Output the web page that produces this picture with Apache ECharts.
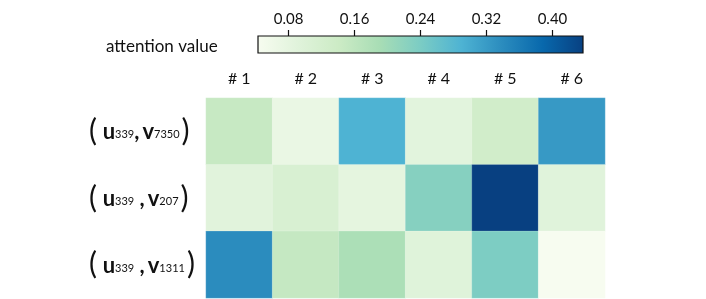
<!DOCTYPE html>
<html>
<head>
<meta charset="utf-8">
<script src="https://cdn.jsdelivr.net/npm/echarts@6/dist/echarts.min.js"></script>
<style>html,body{margin:0;padding:0;background:#fff}#c{width:706px;height:299px}</style>
</head>
<body>
<div id="c"></div>
<script>
// ---- data ----
const columns = ['# 1', '# 2', '# 3', '# 4', '# 5', '# 6'];
const rowSubs = [['339', '7350'], ['339', '207'], ['339', '1311']];
const row1 = [0.149, 0.071, 0.289, 0.088, 0.130, 0.322];
const row2 = [0.090, 0.112, 0.082, 0.228, 0.437, 0.092];
const row3 = [0.339, 0.151, 0.185, 0.094, 0.238, 0.043];
const colorbarTicks = [0.08, 0.16, 0.24, 0.32, 0.40];
const valueMin = 0.043;
const valueMax = 0.437;
const legendTitle = 'attention value';

const GnBu = ['#f7fcf0', '#e0f3db', '#ccebc5', '#a8ddb5', '#7bccc4', '#4eb3d3', '#2b8cbe', '#0868ac', '#084081'];

const rows = [row1, row2, row3];
const rowLabels = rowSubs.map((_, i) => 'r' + i);
const commaSpace = ['', ' ', ' '];
const heat = [];
rows.forEach((r, ri) => r.forEach((v, ci) => heat.push([ci, ri, v])));

const FONT = 'Lato';
const chart = echarts.init(document.getElementById('c'));
chart.setOption({
  backgroundColor: '#fff',
  animation: false,
  textStyle: { fontFamily: FONT, color: '#111' },
  title: {
    text: legendTitle, left: 101, top: 33,
    textStyle: { fontFamily: FONT, fontSize: 17, fontWeight: 'normal', color: '#111' }
  },
  grid: [
    { left: 206, top: 98, width: 399, height: 200 },
    {
      left: 258, top: 36, width: 325, height: 17, show: true,
      borderColor: '#111', borderWidth: 1.2,
      backgroundColor: {
        type: 'linear', x: 0, y: 0, x2: 1, y2: 0,
        colorStops: GnBu.map((c, i) => ({ offset: i / (GnBu.length - 1), color: c }))
      }
    }
  ],
  xAxis: [
    {
      type: 'category', data: columns, gridIndex: 0, position: 'top',
      axisLine: { show: false }, axisTick: { show: false },
      axisLabel: { fontSize: 16, color: '#111', margin: 11, fontFamily: FONT }
    },
    {
      type: 'value', gridIndex: 1, position: 'top', min: valueMin, max: valueMax,
      splitLine: { show: false },
      axisLine: { show: false },
      axisTick: { show: true, customValues: colorbarTicks, length: 6, inside: false, lineStyle: { color: '#111', width: 1.2 } },
      axisLabel: { customValues: colorbarTicks, fontSize: 15, color: '#111', margin: 9, fontFamily: FONT,
        formatter: v => v.toFixed(2) }
    }
  ],
  yAxis: [
    {
      type: 'category', data: rowLabels, gridIndex: 0, inverse: true,
      axisLine: { show: false }, axisTick: { show: false },
      axisLabel: {
        margin: 117, align: 'left',
        formatter: (v, idx) => {
          const s = rowSubs[idx];
          return '{p|(}{sp| }{b|u}{s|' + s[0] + '}{b|' + commaSpace[idx] + ',} {b|v}{s|' + s[1] + '}{q|)}';
        },
        rich: {
          p: { fontSize: 30, fontFamily: FONT, color: '#111', verticalAlign: 'bottom' },
          q: { fontSize: 30, fontFamily: FONT, color: '#111', verticalAlign: 'bottom', padding: [0, 0, 0, 2] },
          sp: { fontSize: 22, fontFamily: FONT, verticalAlign: 'bottom' },
          b: { fontSize: 22, fontWeight: 'bold', fontFamily: FONT, color: '#111', verticalAlign: 'bottom', padding: [0, 0, 3, 0] },
          s: { fontSize: 11, fontFamily: FONT, color: '#111', verticalAlign: 'bottom', padding: [0, 0, 6, 0] }
        }
      }
    },
    { type: 'category', gridIndex: 1, show: false, data: [''] }
  ],
  visualMap: {
    show: false, type: 'continuous', min: valueMin, max: valueMax, seriesIndex: 0,
    inRange: { color: GnBu }
  },
  series: [{
    type: 'heatmap', xAxisIndex: 0, yAxisIndex: 0, data: heat,
    itemStyle: { borderColor: 'rgba(255,255,255,0.35)', borderWidth: 0.5 },
    emphasis: { disabled: true }
  }]
});
</script>
</body>
</html>
